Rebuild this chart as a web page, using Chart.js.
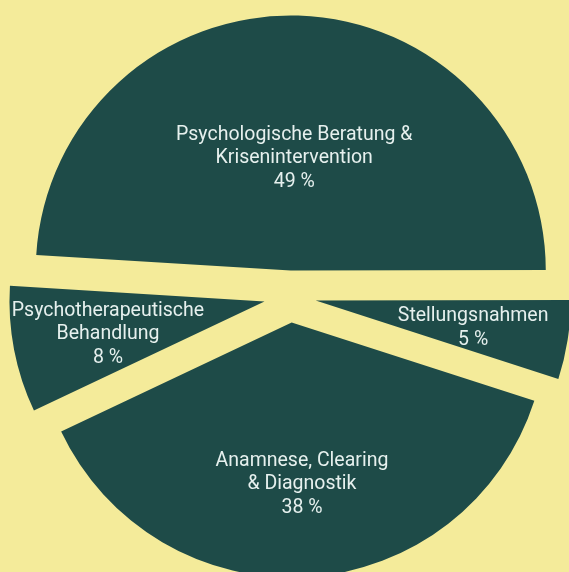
<!DOCTYPE html>
<html><head><meta charset="utf-8">
<script src="https://cdn.jsdelivr.net/npm/chart.js@4"></script>
<style>html,body{margin:0;padding:0;background:#F4EB9A;overflow:hidden;}</style>
</head><body>
<canvas id="c" width="569" height="572"></canvas>
<script>
// ---- data ----
const categories = [
  ["Psychologische Beratung &", "Krisenintervention"],
  ["Stellungsnahmen"],
  ["Anamnese, Clearing", "& Diagnostik"],
  ["Psychotherapeutische", "Behandlung"]
];
const values = [49, 5, 38, 8];
const percentLabels = ["49 %", "5 %", "38 %", "8 %"];

// ---- style ----
const SLICE_COLOR = '#1E4B48';
const TEXT_COLOR = '#E6F0EE';
const EXPLODE = 26;
const LABEL_RADIUS = [0.452, 0.625, 0.625, 0.625];

// explode every slice along its bisector (equal radii, no angle shrink)
const explode = {
  id: 'explode',
  beforeDatasetDraw(chart, args) {
    const meta = args.meta, ctrl = meta.controller, a = chart.chartArea;
    const cx = (a.left + a.right) / 2 + ctrl.offsetX;
    const cy = (a.top + a.bottom) / 2 + ctrl.offsetY;
    meta.data.forEach(arc => {
      const mid = (arc.startAngle + arc.endAngle) / 2;
      arc.x = cx + Math.cos(mid) * EXPLODE;
      arc.y = cy + Math.sin(mid) * EXPLODE;
    });
  }
};

const sliceLabels = {
  id: 'sliceLabels',
  afterDatasetsDraw(chart) {
    const meta = chart.getDatasetMeta(0), ctrl = meta.controller;
    const ctx = chart.ctx;
    ctx.save();
    ctx.fillStyle = TEXT_COLOR;
    ctx.font = '19.5px Roboto';
    ctx.textAlign = 'center';
    ctx.textBaseline = 'middle';
    const lh = 23.5;
    meta.data.forEach((arc, i) => {
      const mid = (arc.startAngle + arc.endAngle) / 2;
      const r = ctrl.outerRadius * LABEL_RADIUS[i];
      const x = arc.x + Math.cos(mid) * r;
      const y = arc.y + Math.sin(mid) * r + 3;
      const lines = categories[i].concat([percentLabels[i]]);
      const y0 = y - (lines.length - 1) * lh / 2;
      lines.forEach((t, k) => ctx.fillText(t, x, y0 + k * lh));
    });
    ctx.restore();
  }
};

new Chart(document.getElementById('c'), {
  type: 'pie',
  data: {
    labels: categories.map(c => c.join(' ')),
    datasets: [{
      data: values,
      backgroundColor: SLICE_COLOR,
      borderWidth: 0,
      radius: 255,
      clip: false
    }]
  },
  options: {
    responsive: false,
    animation: false,
    rotation: -86.5,
    layout: { padding: { left: 11, top: 21, right: 0, bottom: 0 } },
    plugins: { legend: { display: false }, tooltip: { enabled: false } }
  },
  plugins: [explode, sliceLabels]
});
</script>
</body></html>
